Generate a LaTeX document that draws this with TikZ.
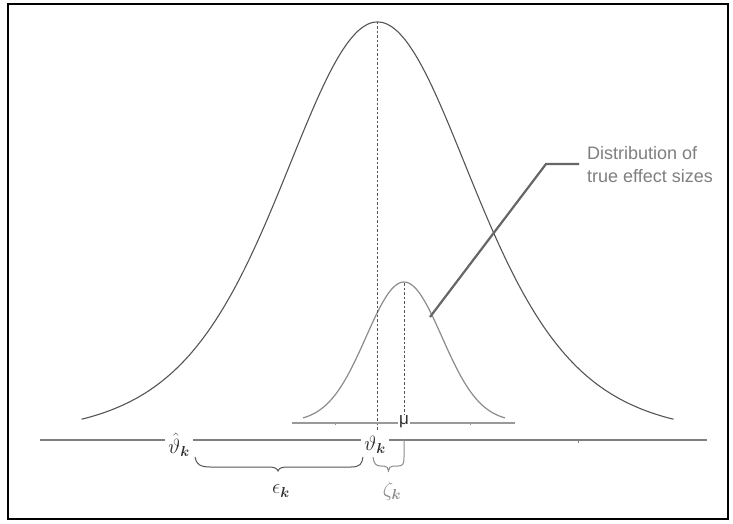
\documentclass[tikz,border=0pt]{standalone}
\usepackage{fontspec}
\setmainfont{Liberation Sans}
\usepackage{amsmath}
\definecolor{curvedark}{HTML}{555555}
\definecolor{curvelight}{HTML}{8C8C8C}
\definecolor{axisgray}{HTML}{7F7F7F}
\definecolor{leadergray}{HTML}{666666}
\definecolor{textgray}{HTML}{7F7F7F}
\definecolor{labeldark}{HTML}{2E2E2E}
\tikzset{
  bigcurve/.style={draw=curvedark, line width=1.1pt},
  smallcurve/.style={draw=curvelight, line width=1.2pt},
  axisline/.style={draw=axisgray, line width=1.5pt},
  smallaxis/.style={draw=axisgray!80, line width=1.2pt},
  dashline/.style={draw=curvedark, line width=0.9pt, dash pattern=on 2.5pt off 2pt},
  leader/.style={draw=leadergray, line width=2.2pt},
  mathlabel/.style={inner sep=0pt, inner xsep=3pt, text=labeldark, font=\fontsize{22}{26}\selectfont},
  bracedark/.style={draw=curvedark, line width=1pt},
  bracelight/.style={draw=curvelight, line width=1pt},
}
\begin{document}
\begin{tikzpicture}[x=1pt, y=-1pt]
\useasboundingbox (0,0) rectangle (733,524);
\fill[white] (0,0) rectangle (733,524);
% frame
\draw[black, line width=2pt] (8,4) rectangle (728,519);

% big distribution
\begin{scope}[shift={(377.5,22)}]
\draw[bigcurve] plot[domain=-296:296, samples=121, smooth]
  (\x, {415*(1-exp(-3.5*ln(1+(\x/100)*(\x/100)/6)))});
\end{scope}

% small distribution
\begin{scope}[shift={(404,282)}]
\draw[smallcurve] plot[domain=-101:101, samples=81, smooth] (\x, {140*(1-exp(-\x*\x/2888))});
\end{scope}

% labels on the axes
\coordinate (peakbig) at (377.5,22);
\coordinate (peaksmall) at (404,283);
\node[mathlabel] (th) at (375,445) {$\vartheta_{\boldsymbol{k}}$};
\node[mathlabel] (thhat) at (179,445) {$\hat{\vartheta}_{\boldsymbol{k}}$};
\node[inner sep=1pt, text=labeldark, font=\fontsize{17}{20}\selectfont] (mu) at (404,422) {μ};
\draw[dashline] (peakbig) -- (377.5,430);
\draw[dashline] (peaksmall) -- (mu.north);

% small axis
\coordinate (saL) at (292,423);
\coordinate (saR) at (515,423);
\draw[smallaxis] (saL) -- (mu.west |- saL);
\draw[smallaxis] (mu.east |- saR) -- (saR);
\draw[smallaxis, line width=0.8pt] (335,423) -- (335,425);
\draw[smallaxis, line width=0.8pt] (470,423) -- (470,425);

% main axis
\coordinate (axL) at (40,440);
\coordinate (axR) at (707,440);
\draw[axisline] (axL) -- (thhat.west |- axL);
\draw[axisline] (thhat.east |- axL) -- (th.west |- axL);
\draw[axisline] (th.east |- axR) -- (axR);
\draw[axisline, line width=1pt] (578,440) -- (578,443);

% epsilon brace
\draw[bracedark] (195,457) .. controls (196,464) and (200,467) .. (210,467) -- (268,467)
  .. controls (274,467) and (277,468) .. (278,471)
  .. controls (279,468) and (282,467) .. (288,467) -- (351,467)
  .. controls (360,467) and (362,464) .. (363,457);
\node[mathlabel] (eps) at (281,491) {$\epsilon_{\boldsymbol{k}}$};

% zeta brace
\draw[bracelight] (373,457) .. controls (374,464) and (376,466) .. (381,466) -- (384,466)
  .. controls (387,466) and (388,468) .. (388.5,471)
  .. controls (389,468) and (390,466) .. (393,466) -- (398,466)
  .. controls (403,466) and (404,464) .. (404,457) -- (404,439);
\node[mathlabel, text=curvelight] (zeta) at (392,491) {$\zeta_{\boldsymbol{k}}$};

% leader and label
\coordinate (lp) at (430,317);
\coordinate (lc) at (546,164);
\coordinate (le) at (579,164);
\draw[leader] (lp) -- (lc) -- (le);
\node[anchor=north west, inner sep=0pt, align=left, text=textgray,
  font=\fontsize{18}{23}\selectfont] (lab) at (587,146) {Distribution of\\true effect sizes};
\end{tikzpicture}
\end{document}
